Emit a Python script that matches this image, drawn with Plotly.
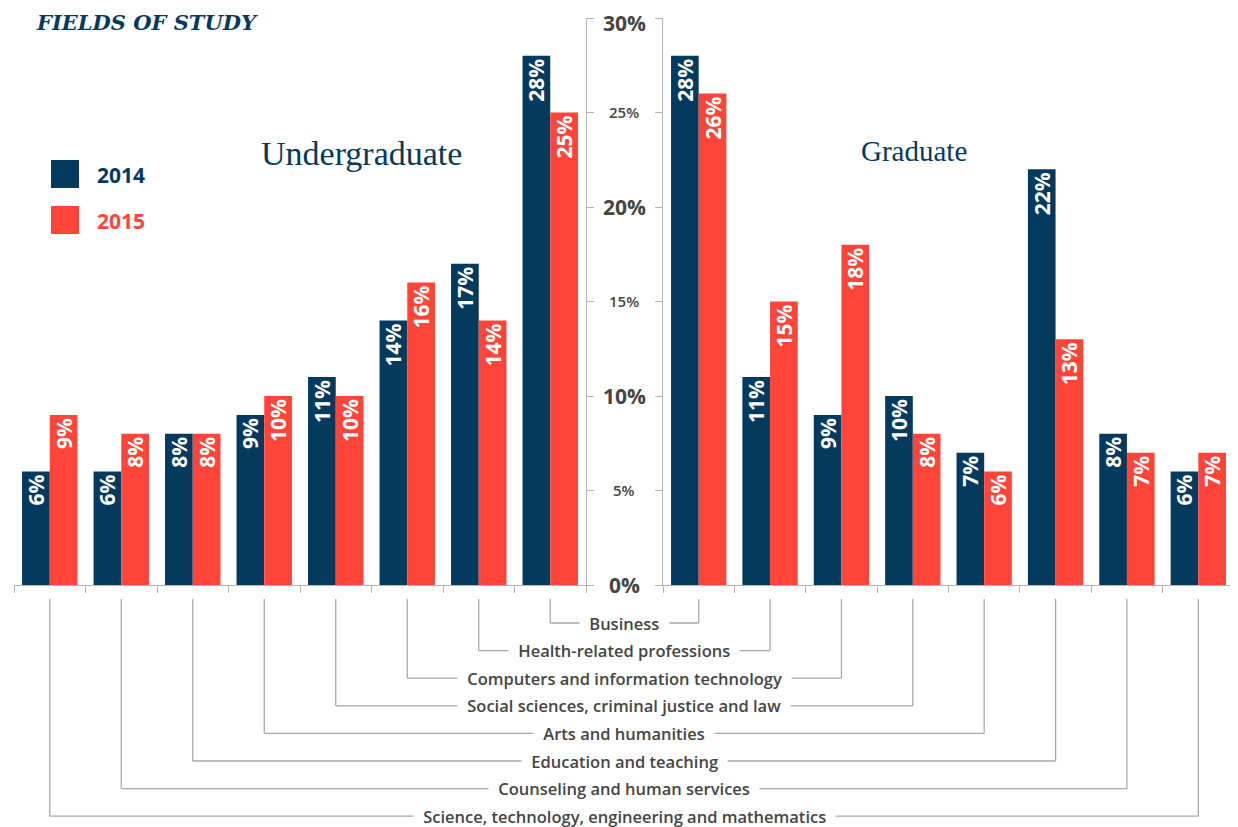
import plotly.graph_objects as go

# ---------------- data ----------------
title_text = "FIELDS OF STUDY"
panel_titles = ["Undergraduate", "Graduate"]
series_names = ["2014", "2015"]
series_colors = ["#043A5E", "#FF443A"]

ug_categories = [
    "Science, technology, engineering and mathematics",
    "Counseling and human services",
    "Education and teaching",
    "Arts and humanities",
    "Social sciences, criminal justice and law",
    "Computers and information technology",
    "Health-related professions",
    "Business",
]
ug_2014 = [6, 6, 8, 9, 11, 14, 17, 28]
ug_2015 = [9, 8, 8, 10, 10, 16, 14, 25]

grad_categories = [
    "Business",
    "Health-related professions",
    "Computers and information technology",
    "Social sciences, criminal justice and law",
    "Arts and humanities",
    "Education and teaching",
    "Counseling and human services",
    "Science, technology, engineering and mathematics",
]
grad_2014 = [28, 11, 9, 10, 7, 22, 8, 6]
grad_2015 = [26, 15, 18, 8, 6, 13, 7, 7]

y_ticks = [0, 5, 10, 15, 20, 25, 30]
major_ticks = [0, 10, 20, 30]

# ---------------- layout helpers ----------------
OFF = 8  # page body margin in the browser
W, H = 1238 - OFF, 827 - OFF
def px_x(p):
    return (p - OFF) / W
def px_y(p):
    return (H - (p - OFF)) / H

left_dom = [px_x(14), px_x(586)]
right_dom = [px_x(663), px_x(1234)]
y_dom = [px_y(585), px_y(18)]
mid_x = px_x(624)

NAVY, RED = series_colors
AXIS_GREY = "#b5b5b5"
TEXT_GREY = "#454545"
FONT = "Open Sans"

fig = go.Figure()

panels = [
    ("x", "y", ug_categories, [ug_2014, ug_2015]),
    ("x2", "y2", grad_categories, [grad_2014, grad_2015]),
]
for xa, ya, cats, vals in panels:
    for name, color, v in zip(series_names, series_colors, vals):
        fig.add_trace(go.Bar(
            x=cats, y=v, name=name, marker=dict(color=color, line=dict(width=0)),
            text=[f"{t}%" for t in v], textposition="inside", insidetextanchor="end",
            textangle=-90, constraintext="none",
            textfont=dict(family=FONT, size=21, color="white", weight=700),
            xaxis=xa, yaxis=ya, showlegend=False, hoverinfo="skip",
        ))

common_x = dict(type="category", showline=True, linecolor=AXIS_GREY, linewidth=1.2,
                ticks="outside", tickson="boundaries", ticklen=7, tickcolor=AXIS_GREY,
                tickwidth=1.2, showticklabels=False, showgrid=False, zeroline=False,
                fixedrange=True)
common_y = dict(range=[0, 30], domain=y_dom, showline=True, linecolor=AXIS_GREY,
                linewidth=1.2, ticks="outside", ticklen=7, tickcolor=AXIS_GREY,
                tickwidth=1.2, tickvals=y_ticks, showticklabels=False,
                showgrid=False, zeroline=False, fixedrange=True)

fig.update_layout(
    width=W, height=H, margin=dict(l=0, r=0, t=0, b=0),
    paper_bgcolor="white", plot_bgcolor="white",
    barmode="group", bargap=0.225, bargroupgap=0,
    xaxis=dict(domain=left_dom, anchor="y", categoryorder="array",
               categoryarray=ug_categories, **common_x),
    xaxis2=dict(domain=right_dom, anchor="y2", categoryorder="array",
                categoryarray=grad_categories, **common_x),
    yaxis=dict(anchor="x", side="right", **common_y),
    yaxis2=dict(anchor="x2", side="left", **common_y),
)

annotations = []
shapes = []

# y tick labels, centered between the two axes
for t in y_ticks:
    if t in major_ticks:
        txt, size, wt = f"{t}%", 21, 700
    else:
        txt, size, wt = f"{t}%", 15, 600
    annotations.append(dict(x=mid_x, xref="paper", y=t, yref="y", text=txt,
                            showarrow=False, xanchor="center", yanchor="middle",
                            yshift=-5 if t == max(y_ticks) else 0,
                            font=dict(family=FONT, size=size, color=TEXT_GREY, weight=wt)))

# title
annotations.append(dict(x=px_x(34), y=px_y(22), xref="paper", yref="paper",
                        text=f"<b><i>{title_text}</i></b>", showarrow=False,
                        xanchor="left", yanchor="middle",
                        font=dict(family="DejaVu Serif", size=21, color=NAVY)))
# panel titles
annotations.append(dict(x=px_x(361), y=px_y(153), xref="paper", yref="paper",
                        text=panel_titles[0], showarrow=False, xanchor="center",
                        yanchor="middle",
                        font=dict(family="Liberation Serif", size=34, color=NAVY)))
annotations.append(dict(x=px_x(914), y=px_y(151), xref="paper", yref="paper",
                        text=panel_titles[1], showarrow=False, xanchor="center",
                        yanchor="middle",
                        font=dict(family="Liberation Serif", size=29, color=NAVY)))

# legend
for i, (name, color) in enumerate(zip(series_names, series_colors)):
    top = 160 + 46 * i
    shapes.append(dict(type="rect", xref="paper", yref="paper",
                       x0=px_x(51), x1=px_x(79), y0=px_y(top + 28), y1=px_y(top),
                       fillcolor=color, line=dict(width=0)))
    annotations.append(dict(x=px_x(95), y=px_y(top + 15), xref="paper", yref="paper",
                            text=name, showarrow=False, xanchor="left", yanchor="middle",
                            font=dict(family=FONT, size=21, color=color, weight=700)))

# connectors between categories of both panels and the shared labels
def cat_center(dom, idx, n):
    return dom[0] + (idx + 0.5) / n * (dom[1] - dom[0])

n = len(ug_categories)
row0, row_step = 623, 27.6
for i, cat in enumerate(grad_categories):
    ry = row0 + row_step * i
    lx = cat_center(left_dom, ug_categories.index(cat), n)
    rx = cat_center(right_dom, grad_categories.index(cat), n)
    line = dict(color="#a9a9a9", width=1.3)
    shapes.append(dict(type="line", xref="paper", yref="paper", x0=lx, x1=lx,
                       y0=px_y(599), y1=px_y(ry), line=line))
    shapes.append(dict(type="line", xref="paper", yref="paper", x0=rx, x1=rx,
                       y0=px_y(599), y1=px_y(ry), line=line))
    shapes.append(dict(type="line", xref="paper", yref="paper", x0=lx, x1=rx,
                       y0=px_y(ry), y1=px_y(ry), line=line))
    annotations.append(dict(x=mid_x, y=px_y(ry), xref="paper", yref="paper",
                            text="\u2002" + cat + "\u2002", showarrow=False,
                            xanchor="center", yanchor="middle", bgcolor="white",
                            borderpad=1,
                            font=dict(family=FONT, size=16.5, color=TEXT_GREY, weight=600)))

fig.update_layout(annotations=annotations, shapes=shapes)
fig.write_html("out.html")
